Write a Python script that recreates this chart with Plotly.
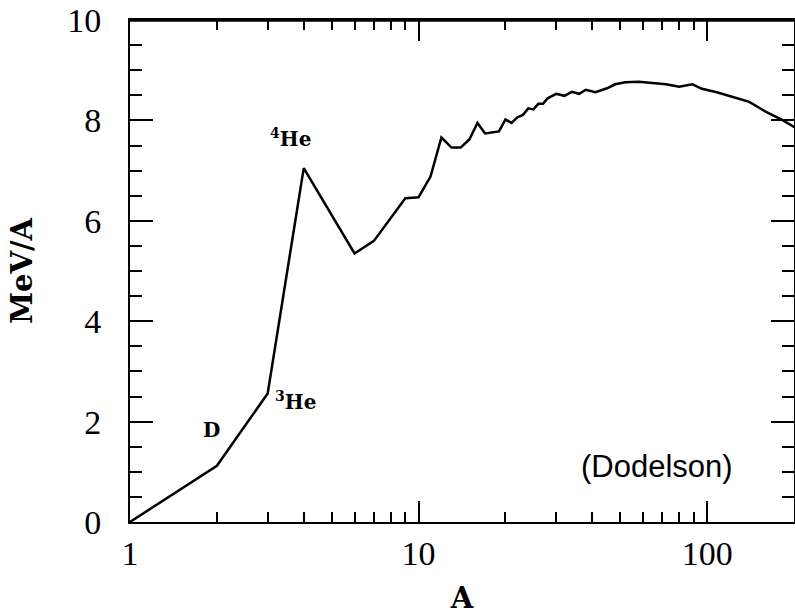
import plotly.graph_objects as go
import math

# Data (mass number A, binding energy per nucleon MeV/A)
mass_number = [1, 2, 3, 4, 6, 7, 9, 10, 11, 12, 13, 14, 15, 16, 17, 18, 19, 20,
               21, 22, 23, 24, 25, 26, 27, 28, 30, 32, 34, 36, 38, 41, 45, 48,
               52, 58, 64, 72, 80, 89, 96, 108, 122, 140, 160, 182, 200, 238]
mev_per_a = [0.0, 1.12, 2.56, 7.05, 5.35, 5.60, 6.45, 6.47, 6.88, 7.66, 7.46,
             7.46, 7.62, 7.95, 7.74, 7.76, 7.78, 8.02, 7.95, 8.06, 8.11, 8.24,
             8.22, 8.33, 8.33, 8.44, 8.53, 8.49, 8.57, 8.53, 8.61, 8.56, 8.64,
             8.72, 8.76, 8.77, 8.75, 8.72, 8.67, 8.72, 8.63, 8.56, 8.47, 8.37,
             8.17, 8.01, 7.87, 7.57]

x_major = [1, 10, 100]
x_major_text = ["1", "10", "100"]
x_minor = [2, 3, 4, 5, 6, 7, 8, 9, 20, 30, 40, 50, 60, 70, 80, 90, 200]
y_major = [0, 2, 4, 6, 8, 10]
y_minor = [0.5, 1, 1.5, 2.5, 3, 3.5, 4.5, 5, 5.5, 6.5, 7, 7.5, 8.5, 9, 9.5]

labels = [("D", 1.92, 1.83), ("<sup>4</sup>He", 3.61, 7.65),
          ("<sup>3</sup>He", 3.75, 2.41)]

tick_font = dict(family="Liberation Serif", size=34, color="black")
label_font = dict(family="DejaVu Serif", size=20, color="black", weight="bold")
title_font = dict(family="DejaVu Serif", size=29, color="black", weight="bold")

fig = go.Figure()
fig.add_trace(go.Scatter(x=mass_number, y=mev_per_a, mode="lines",
                         line=dict(color="black", width=2.5),
                         showlegend=False, hoverinfo="skip"))

for txt, ax, ay in labels:
    fig.add_annotation(x=math.log10(ax), y=ay, xref="x", yref="y", text=txt,
                       showarrow=False, font=label_font,
                       xanchor="center", yanchor="middle")

fig.add_annotation(x=math.log10(67.1), y=1.10, xref="x", yref="y",
                   text="(Dodelson)", showarrow=False,
                   font=dict(family="Liberation Sans", size=31, color="black"),
                   xanchor="center", yanchor="middle")

# explicit top border of the frame
fig.add_shape(type="line", xref="paper", yref="paper", x0=0, x1=1, y0=0.999, y1=0.999,
              line=dict(color="black", width=2.5), layer="above")

fig.update_layout(
    width=795, height=615,
    margin=dict(l=130, r=1, t=20, b=93, autoexpand=False),
    paper_bgcolor="white", plot_bgcolor="white",
    xaxis=dict(type="log", range=[0, math.log10(200)],
               tickmode="array", tickvals=x_major, ticktext=x_major_text,
               ticks="inside", ticklen=21, tickwidth=2, tickcolor="black",
               minor=dict(tickmode="array", tickvals=x_minor, ticks="inside",
                          ticklen=10, tickwidth=2, tickcolor="black",
                          showgrid=False),
               showline=True, linecolor="black", linewidth=2, mirror="allticks",
               showgrid=False, zeroline=False, tickfont=tick_font,
               ticklabeloverflow="allow", automargin=False,
               title=dict(text="A", font=title_font, standoff=18)),
    yaxis=dict(range=[0, 10],
               tickmode="array", tickvals=y_major,
               ticks="inside", ticklen=23, tickwidth=2, tickcolor="black",
               minor=dict(tickmode="array", tickvals=y_minor, ticks="inside",
                          ticklen=12, tickwidth=2, tickcolor="black",
                          showgrid=False),
               showline=True, linecolor="black", linewidth=2, mirror="allticks",
               showgrid=False, zeroline=False, tickfont=tick_font,
               ticklabelstandoff=20, ticklabeloverflow="allow", automargin=False,
               title=dict(text="MeV/A", font=title_font, standoff=26)),
)

fig.write_html(
    "out.html",
    config={"displayModeBar": False},
    post_script="document.body.style.margin='0';document.body.style.overflow='hidden';",
)
